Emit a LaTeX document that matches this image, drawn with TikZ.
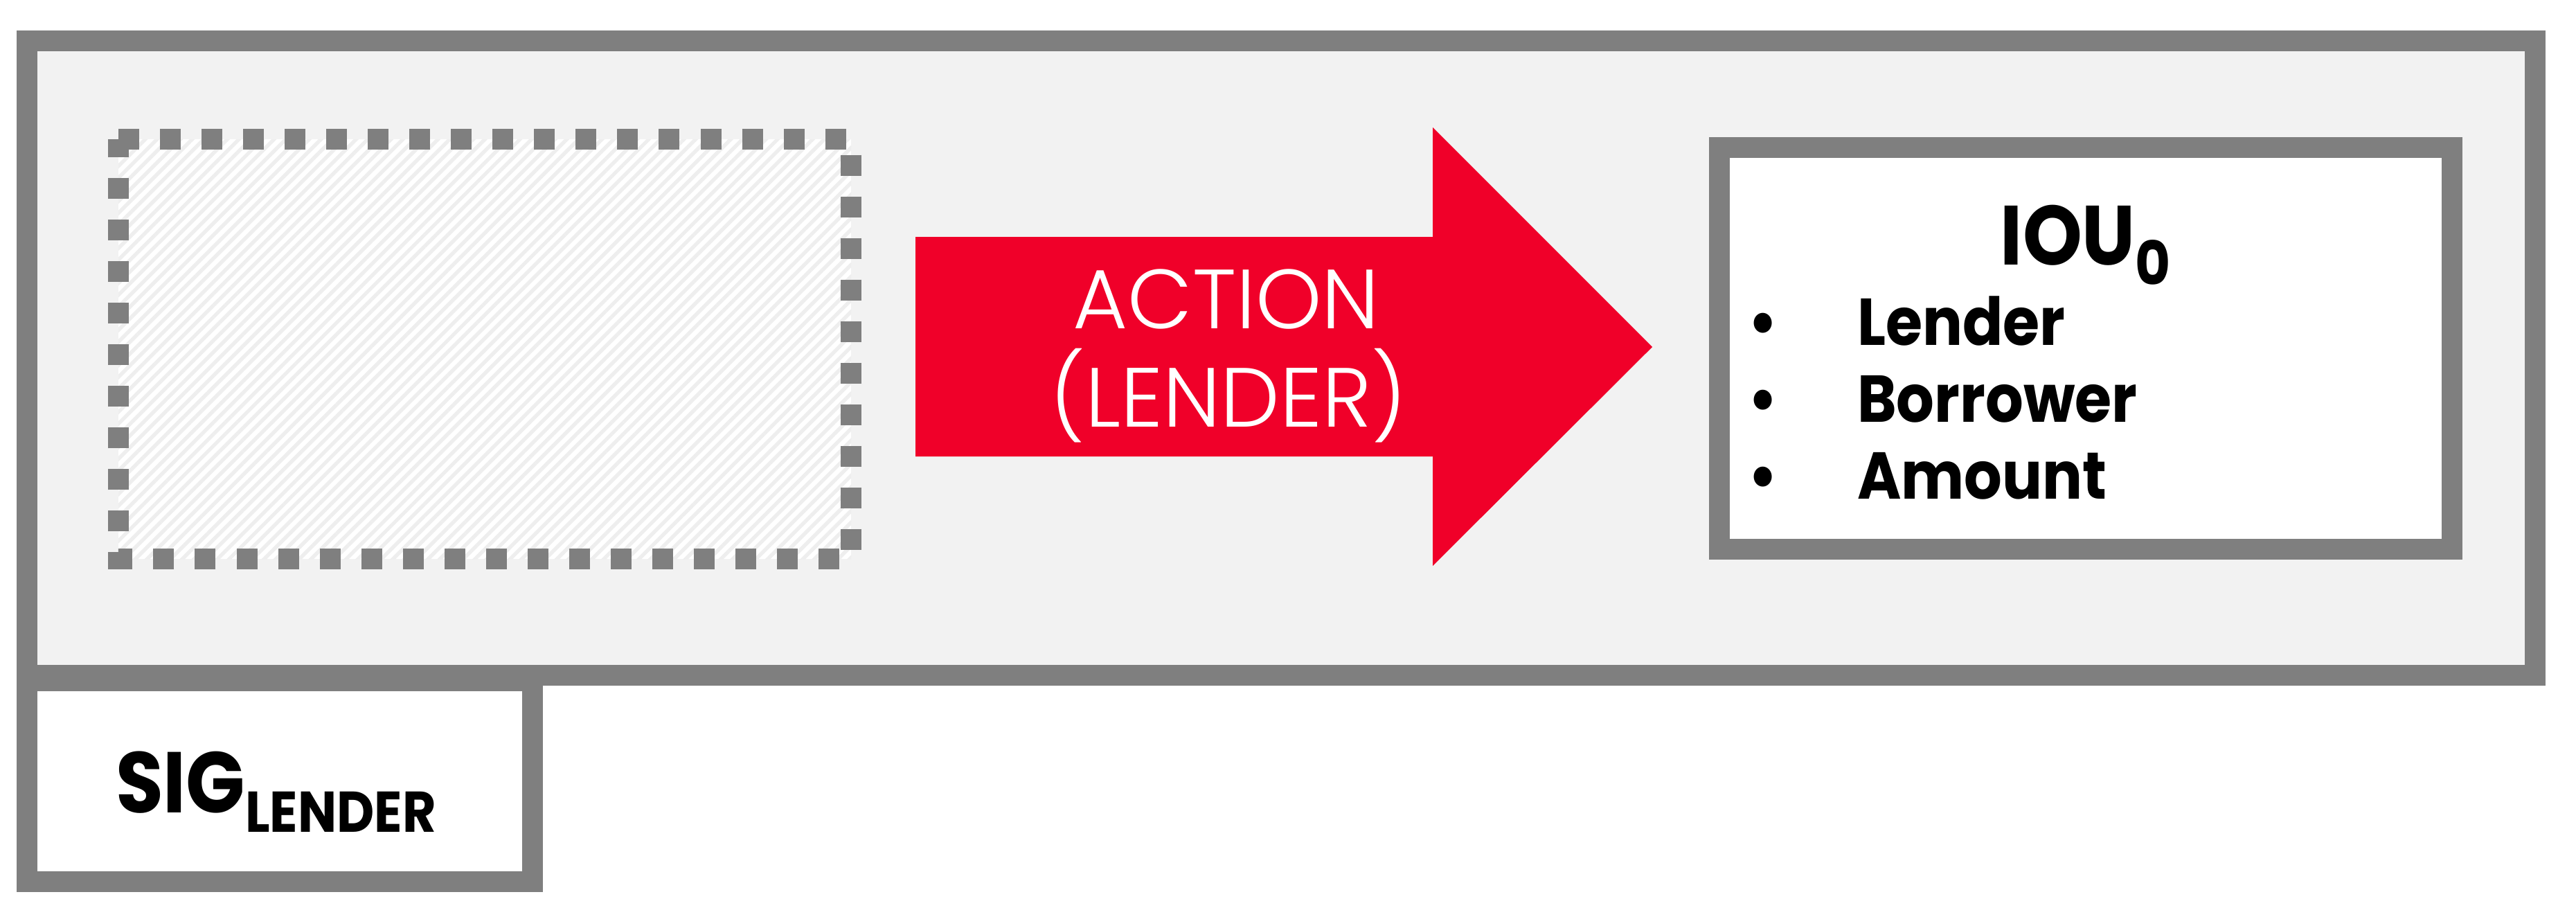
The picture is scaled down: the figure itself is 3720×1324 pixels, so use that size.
\documentclass[tikz,border=0pt]{standalone}
\usepackage{fontspec}
\setmainfont{Poppins}
\newfontfamily\lightf{Poppins Light}
\newfontfamily\boldf{Poppins}[FakeStretch=0.9]
\usetikzlibrary{patterns.meta}
\definecolor{framegray}{RGB}{127,127,127}
\definecolor{panel}{RGB}{242,242,242}
\definecolor{actred}{RGB}{240,0,41}
\definecolor{hatchc}{RGB}{238,238,238}
\begin{document}
\begin{tikzpicture}[x=0.01cm,y=-0.01cm,
  frame/.style={draw=framegray,line width=0.3cm},
  lbl/.style={inner sep=0pt,outer sep=0pt},
  actfont/.style={font=\lightf\fontsize{34.5pt}{40pt}\selectfont,text=white},
  itemfont/.style={font=\boldf\bfseries\fontsize{27.2pt}{32pt}\selectfont},
]
\useasboundingbox (0,0) rectangle (3720,1324);
\fill[white] (0,0) rectangle (3720,1324);
% outer frame and signature tab
\draw[frame,fill=panel] (39,59) rectangle (3661,975);
\draw[frame,fill=white] (39,983) rectangle (769,1273);
% empty dotted placeholder
\fill[white] (171,201) rectangle (1229,807);
\fill[pattern={Lines[angle=45,distance=3.4pt,line width=1.5pt]},pattern color=hatchc] (171,201) rectangle (1229,807);
\draw[framegray,line width=0.3cm,dash pattern=on 0.3cm off 0.3cm] (171,201) -- (1229,201) -- (1229,807) -- (171,807) -- cycle;
% red arrow
\fill[actred] (1322,342) -- (2069,342) -- (2069,184) -- (2386,501) -- (2069,817) -- (2069,659) -- (1322,659) -- cycle;
\node[lbl,actfont,anchor=base] (act1) at (1771,474.5) {ACTION};
\node[lbl,actfont,anchor=base] (act2) at (1774,616.5) {(LENDER)};
% IOU box
\draw[frame,fill=white] (2483,213) rectangle (3541,793);
\node[lbl,anchor=base,font=\boldf\bfseries\fontsize{34.5pt}{40pt}\selectfont] (iou) at (3012,382) {IOU\raisebox{-0.29cm}{\fontsize{24.8pt}{28pt}\selectfont 0}};
\node[lbl,itemfont,anchor=base] (b1) at (2546,498) {•};
\node[lbl,itemfont,anchor=base] (b2) at (2546,609) {•};
\node[lbl,itemfont,anchor=base] (b3) at (2546,720) {•};
\node[lbl,itemfont,anchor=base west] (i1) at (2682,498) {Lender};
\node[lbl,itemfont,anchor=base west] (i2) at (2682,609) {Borrower};
\node[lbl,itemfont,anchor=base west] (i3) at (2682,720) {Amount};
% signature
\node[lbl,anchor=base west,font=\boldf\bfseries\fontsize{35.4pt}{40pt}\selectfont] (sig) at (167,1173) {SIG\raisebox{-0.28cm}{\fontsize{23.6pt}{28pt}\selectfont LENDER}};
\end{tikzpicture}
\end{document}
